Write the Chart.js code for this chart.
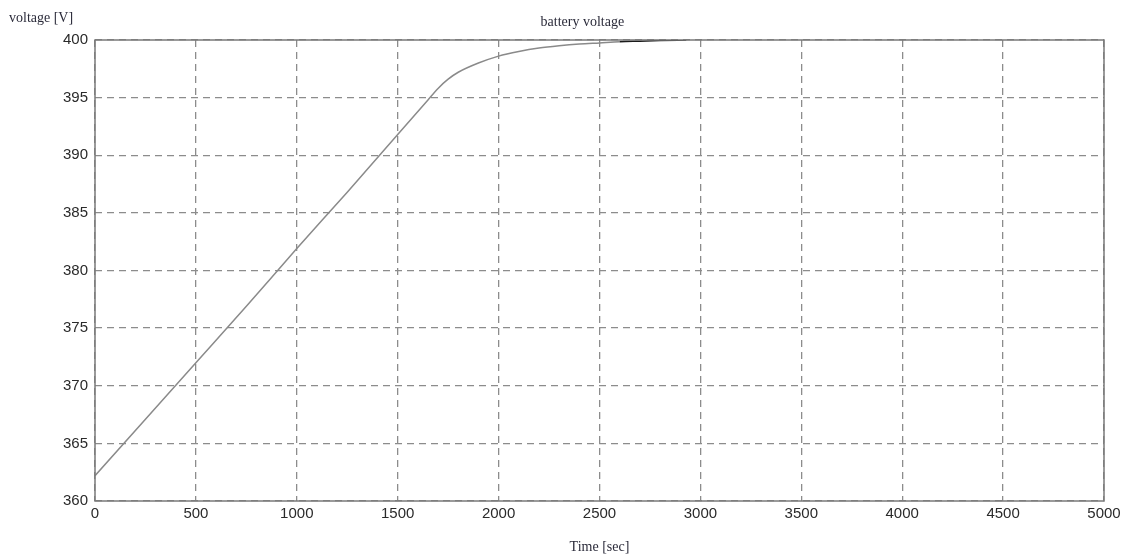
<!DOCTYPE html>
<html lang="en">
<head>
    <meta charset="UTF-8">
    <title>battery voltage</title>
    <script src="https://cdn.jsdelivr.net/npm/chart.js"></script>
    <style>
        html, body { margin: 0; padding: 0; background: #fff; }
    </style>
</head>
<body>
    <canvas id="myChart" width="1127" height="555"></canvas>

    <script>
        // time samples [sec] and battery voltage [V]
        const timeSec = [0, 250, 500, 750, 1000, 1250, 1500, 1650, 1700, 1750, 1800, 1900, 2000, 2100, 2200, 2300, 2400, 2500, 2600, 2700, 2800, 2930];
        const voltage = [362.2, 367.1, 372.0, 376.9, 381.9, 386.8, 391.8, 394.8, 395.8, 396.6, 397.2, 398.0, 398.6, 399.0, 399.3, 399.5, 399.65, 399.75, 399.85, 399.9, 399.95, 400.0];

        const xTicks = [0, 500, 1000, 1500, 2000, 2500, 3000, 3500, 4000, 4500, 5000];
        const yTicks = [360, 365, 370, 375, 380, 385, 390, 395, 400];

        const titleText = 'battery voltage';
        const yLabel = 'voltage [V]';
        const xLabel = 'Time [sec]';

        const serif = '"Liberation Serif", "Times New Roman", serif';
        const sans = '"Liberation Sans", Arial, sans-serif';

        // title, axis labels and the plot box, MATLAB style
        const frame = {
            id: 'frame',
            afterDraw(chart) {
                const { ctx, chartArea: a } = chart;
                ctx.save();
                ctx.strokeStyle = '#7a7a7a';
                ctx.lineWidth = 1.5;
                ctx.setLineDash([]);
                ctx.strokeRect(a.left, a.top, a.right - a.left, a.bottom - a.top);

                ctx.fillStyle = '#2b2b3a';
                ctx.font = '14px ' + serif;
                ctx.textBaseline = 'middle';
                ctx.textAlign = 'center';
                ctx.fillText(titleText, a.left + (a.right - a.left) * 0.483, 22);
                ctx.fillText(xLabel, (a.left + a.right) / 2, 547);
                ctx.textAlign = 'left';
                ctx.fillText(yLabel, 9, 18);
                ctx.restore();
            }
        };

        const config = {
            type: 'line',
            data: {
                datasets: [{
                    label: 'battery voltage',
                    data: timeSec.map((t, i) => ({ x: t, y: voltage[i] })),
                    borderColor: '#8a8a8a',
                    borderWidth: 1.5,
                    pointRadius: 0,
                    cubicInterpolationMode: 'monotone',
                    segment: {
                        borderColor: c => c.p0.parsed.x >= 2600 ? '#1a1a1a' : '#8a8a8a'
                    }
                }]
            },
            options: {
                responsive: false,
                animation: false,
                layout: { padding: { left: 0, right: 23, top: 40, bottom: 0 } },
                plugins: {
                    legend: { display: false },
                    tooltip: { enabled: false }
                },
                scales: {
                    x: {
                        type: 'linear',
                        min: 0,
                        max: 5000,
                        afterBuildTicks: s => { s.ticks = xTicks.map(v => ({ value: v })); },
                        afterFit: s => { s.height = 54; },
                        ticks: {
                            font: { family: sans, size: 15 },
                            color: '#2a2a2a',
                            maxRotation: 0,
                            padding: 4,
                            callback: v => String(v)
                        },
                        grid: {
                            color: '#8c8c8c',
                            lineWidth: 1.3,
                            drawTicks: false
                        },
                        border: { display: false, dash: [7, 5] }
                    },
                    y: {
                        type: 'linear',
                        min: 360,
                        max: 400,
                        afterBuildTicks: s => { s.ticks = yTicks.map(v => ({ value: v })); },
                        afterFit: s => { s.width = 95; },
                        ticks: {
                            font: { family: sans, size: 15 },
                            color: '#2a2a2a',
                            padding: 7,
                            callback: v => String(v)
                        },
                        grid: {
                            color: '#8c8c8c',
                            lineWidth: 1.3,
                            drawTicks: false
                        },
                        border: { display: false, dash: [7, 5] }
                    }
                }
            },
            plugins: [frame]
        };

        const ctx = document.getElementById('myChart').getContext('2d');
        new Chart(ctx, config);
    </script>
</body>
</html>
